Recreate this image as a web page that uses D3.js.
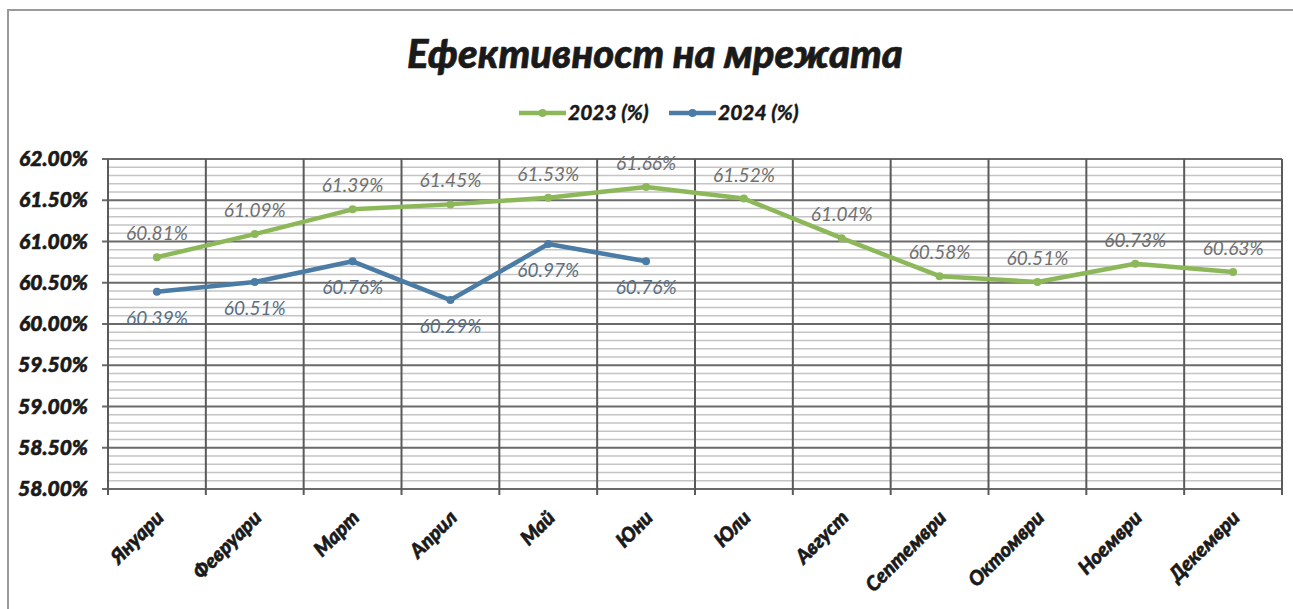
<!DOCTYPE html>
<html>
<head>
<meta charset="utf-8">
<script src="https://cdn.jsdelivr.net/npm/d3@7"></script>
<style>
  body { margin: 0; background: #fff; }
  text { font-family: Lato, "Open Sans", sans-serif; }
  .heavy { font-weight: 900; font-style: italic; fill: #1a1a1a; stroke: #1a1a1a; stroke-width: 0.6px; }
</style>
</head>
<body>
<div id="chart"></div>
<script>
const months = ["Януари", "Февруари", "Март", "Април", "Май", "Юни", "Юли", "Август", "Септември", "Октомври", "Ноември", "Декември"];
const values2023 = [60.81, 61.09, 61.39, 61.45, 61.53, 61.66, 61.52, 61.04, 60.58, 60.51, 60.73, 60.63];
const values2024 = [60.39, 60.51, 60.76, 60.29, 60.97, 60.76];
const yTicks = [58, 58.5, 59, 59.5, 60, 60.5, 61, 61.5, 62];
const seriesNames = ["2023 (%)", "2024 (%)"];
const colors = ["#8db85a", "#4a7ca6"];

const W = 1293, H = 609;
const margin = { top: 159, right: 11, bottom: 120, left: 108 };

const svg = d3.select("#chart")
  .append("svg")
    .attr("width", W)
    .attr("height", H);

// outer frame
svg.append("path")
  .attr("d", `M8,${H} V10 H${W}`)
  .attr("fill", "none")
  .attr("stroke", "#9a9a9a")
  .attr("stroke-width", 2);

const x = d3.scaleBand()
  .domain(months)
  .range([margin.left, W - margin.right]);

const y = d3.scaleLinear()
  .domain([58, 62])
  .range([H - margin.bottom, margin.top]);

// minor gridlines
svg.append("g")
  .selectAll("line")
  .data(d3.range(58.1, 62, 0.1).filter(v => Math.abs(v * 2 - Math.round(v * 2)) > 0.01))
  .join("line")
    .attr("x1", margin.left)
    .attr("x2", W - margin.right)
    .attr("y1", d => y(d))
    .attr("y2", d => y(d))
    .attr("stroke", "#c4c4c4")
    .attr("stroke-width", 1.5);

// major gridlines
svg.append("g")
  .selectAll("line")
  .data(yTicks)
  .join("line")
    .attr("x1", margin.left - 6)
    .attr("x2", W - margin.right)
    .attr("y1", d => y(d))
    .attr("y2", d => y(d))
    .attr("stroke", "#6a6a6a")
    .attr("stroke-width", 2);

// vertical category gridlines
svg.append("g")
  .selectAll("line")
  .data(months.concat(["end"]))
  .join("line")
    .attr("x1", (d, i) => i < months.length ? x(d) : x.range()[1])
    .attr("x2", (d, i) => i < months.length ? x(d) : x.range()[1])
    .attr("y1", y(62))
    .attr("y2", y(58) + 6)
    .attr("stroke", "#5a5a5a")
    .attr("stroke-width", 2);

// y axis
svg.append("g")
  .attr("transform", `translate(${margin.left},0)`)
  .call(d3.axisLeft(y)
    .tickValues(yTicks)
    .tickFormat(d => d.toFixed(2) + "%")
    .tickSize(0)
    .tickPadding(20))
  .call(g => g.select(".domain").remove())
  .selectAll("text")
    .attr("class", "heavy")
    .attr("font-size", 21);

// x axis
svg.append("g")
  .attr("transform", `translate(0,${y(58)})`)
  .call(d3.axisBottom(x).tickSize(0).tickPadding(0))
  .call(g => g.select(".domain").remove())
  .selectAll("text")
    .attr("class", "heavy")
    .attr("font-size", 20)
    .attr("text-anchor", "end")
    .attr("dy", 0)
    .attr("transform", "translate(8,30) rotate(-45)");

const cx = d => x(d) + x.bandwidth() / 2;

const line = d3.line()
  .x(d => cx(d.m))
  .y(d => y(d.v));

const series = [
  values2023.map((v, i) => ({ m: months[i], v })),
  values2024.map((v, i) => ({ m: months[i], v }))
];

series.forEach((s, k) => {
  const g = svg.append("g");
  g.append("path")
    .datum(s)
    .attr("fill", "none")
    .attr("stroke", colors[k])
    .attr("stroke-width", 4.5)
    .attr("stroke-linejoin", "round")
    .attr("d", line);
  g.selectAll("circle")
    .data(s)
    .join("circle")
      .attr("cx", d => cx(d.m))
      .attr("cy", d => y(d.v))
      .attr("r", 4)
      .attr("fill", colors[k]);
  g.selectAll("text")
    .data(s)
    .join("text")
      .attr("x", d => cx(d.m))
      .attr("y", d => y(d.v) + (k === 0 ? -17 : 33))
      .attr("text-anchor", "middle")
      .attr("font-size", 19)
      .attr("font-style", "italic")
      .attr("fill", k === 0 ? "#707070" : "#5b6f82")
      .text(d => d.v.toFixed(2) + "%");
});

// title
svg.append("text")
  .attr("class", "heavy")
  .attr("x", 655)
  .attr("y", 68)
  .attr("text-anchor", "middle")
  .attr("font-size", 40)
  .text("Ефективност на мрежата");

// legend
const legendX = [519, 669];
seriesNames.forEach((name, k) => {
  const g = svg.append("g").attr("transform", `translate(${legendX[k]},113)`);
  g.append("line")
    .attr("x1", 0).attr("x2", 47)
    .attr("stroke", colors[k])
    .attr("stroke-width", 4.5);
  g.append("circle")
    .attr("cx", 23.5).attr("r", 4)
    .attr("fill", colors[k]);
  g.append("text")
    .attr("class", "heavy")
    .attr("x", 49)
    .attr("dy", "0.35em")
    .attr("font-size", 21)
    .style("stroke-width", "0.3px")
    .text(name);
});
</script>
</body>
</html>
